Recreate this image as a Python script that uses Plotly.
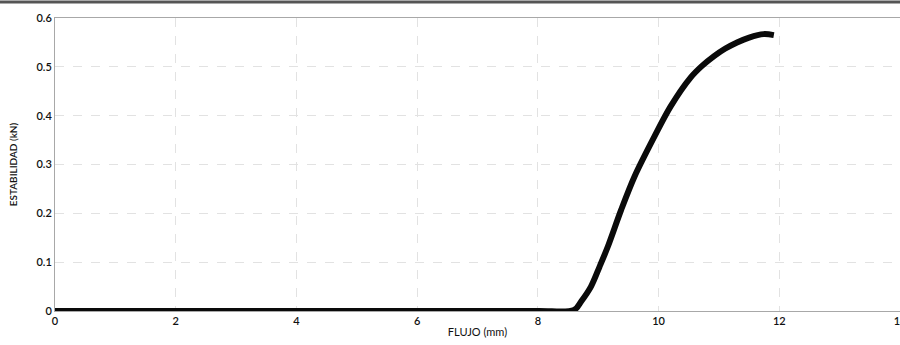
import plotly.graph_objects as go

flujo_mm = [0, 2, 4, 6, 8, 8.6, 8.72, 8.88, 9.02, 9.16, 9.38, 9.6, 9.93, 10.2, 10.53, 10.72, 10.92, 11.1, 11.3, 11.5, 11.74, 11.91]
estabilidad_kn = [0, 0, 0, 0, 0, 0.002, 0.02, 0.05, 0.09, 0.132, 0.207, 0.275, 0.357, 0.419, 0.478, 0.502, 0.522, 0.537, 0.55, 0.56, 0.567, 0.565]

x_ticks = [0, 2, 4, 6, 8, 10, 12, 14]
y_ticks = [0, 0.1, 0.2, 0.3, 0.4, 0.5, 0.6]
y_tick_text = ["0", "0.1", "0.2", "0.3", "0.4", "0.5", "0.6"]

font_family = "Lato, 'Open Sans', sans-serif"

fig = go.Figure()
fig.add_trace(go.Scatter(
    x=flujo_mm, y=estabilidad_kn, mode="lines",
    line=dict(color="#0a0a0a", width=6, shape="spline", smoothing=0.9),
    showlegend=False, hoverinfo="skip",
))

fig.update_layout(
    width=900, height=345,
    margin=dict(l=55, r=0, t=18, b=34),
    paper_bgcolor="white", plot_bgcolor="white",
    font=dict(family=font_family, color="#111111", size=10),
    xaxis=dict(
        range=[0, 14], tickvals=x_ticks, ticks="", showline=True,
        linecolor="#a8a8a8", linewidth=1, mirror=True,
        showgrid=True, gridcolor="#e2e2e2", griddash="dash", gridwidth=1,
        zeroline=False, automargin=False, ticklabeloverflow="allow",
        tickfont=dict(size=11, weight=600),
        title=dict(text="FLUJO (mm)", font=dict(size=11), standoff=2),
    ),
    yaxis=dict(
        range=[0, 0.6], tickvals=y_ticks, ticktext=y_tick_text, ticks="",
        showline=True, linecolor="#a8a8a8", linewidth=1, mirror=True,
        showgrid=True, gridcolor="#e2e2e2", griddash="dash", gridwidth=1,
        zeroline=False, automargin=False,
        tickfont=dict(size=11, weight=600),
        title=dict(text="ESTABILIDAD (kN)", font=dict(size=10, weight=600), standoff=16),
    ),
    shapes=[dict(type="line", xref="paper", yref="paper", x0=-0.07, x1=1.01,
                 y0=1.055, y1=1.055, line=dict(color="#555555", width=3))],
)

fig.write_html(
    "out.html",
    config={"displayModeBar": False},
    post_script="document.body.style.margin='0';document.body.style.overflow='hidden';",
)
